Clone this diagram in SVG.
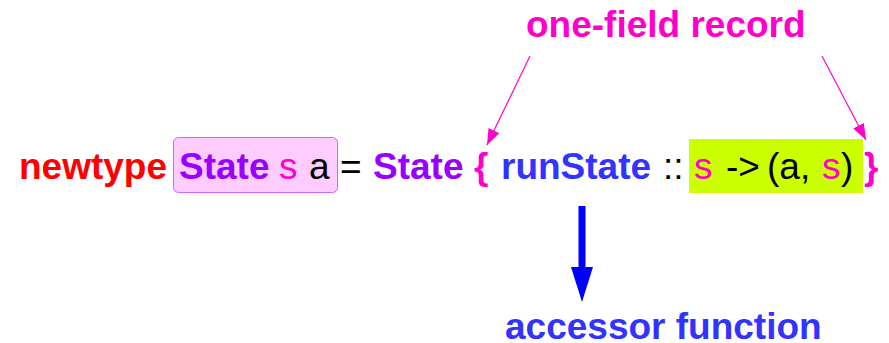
<svg xmlns="http://www.w3.org/2000/svg" width="889" height="343" viewBox="0 0 889 343">
  <style>
    text { font-family: "Liberation Sans", Arial, sans-serif; font-size: 37px; }
    .b { font-weight: bold; }
    .red { fill: #ff0000; }
    .purple { fill: #9900ff; }
    .mag { fill: #ff00cc; }
    .blue { fill: #3333ff; }
    .blk { fill: #000000; }
  </style>
  <defs>
    <marker id="pinkHead" viewBox="0 0 16 12" refX="16" refY="6" markerWidth="16" markerHeight="12" markerUnits="userSpaceOnUse" orient="auto">
      <path d="M0,0 L16,6 L0,12 Z" fill="#ff00cc"/>
    </marker>
  </defs>

  <!-- highlight boxes -->
  <g id="type-box">
    <rect x="173.5" y="137.5" width="164" height="55" rx="5" fill="#ffccff" stroke="#cc66ff" stroke-width="1"/>
  </g>
  <g id="field-box">
    <rect x="689" y="139" width="174" height="54" fill="#ccff00"/>
  </g>

  <!-- declaration line -->
  <g id="declaration">
    <text x="19" y="179" class="b red">newtype</text>
    <text x="179" y="179" class="b purple">State</text>
    <text x="279" y="179" class="mag">s</text>
    <text x="309" y="179" class="blk">a</text>
    <text x="340" y="179" class="blk">=</text>
    <text x="373" y="179" class="b purple">State</text>
    <text x="474" y="179" class="b mag">{</text>
    <text x="501" y="179" class="b blue">runState</text>
    <text x="663" y="179" class="blk">::</text>
    <text x="694" y="179" class="mag">s</text>
    <text x="726" y="179" class="blk">-&gt;</text>
    <text x="767" y="179" class="blk">(a,</text>
    <text x="822" y="179" class="mag">s</text>
    <text x="841" y="179" class="blk">)</text>
    <text x="864" y="179" class="b mag">}</text>
  </g>

  <!-- labels -->
  <g id="record-label">
    <text x="526" y="37" class="b mag">one-field record</text>
  </g>
  <g id="accessor-label">
    <text x="505" y="339" class="b blue">accessor function</text>
  </g>

  <!-- connectors -->
  <g id="connectors">
    <line x1="530" y1="56" x2="487" y2="145" stroke="#ff00cc" stroke-width="1.2" marker-end="url(#pinkHead)"/>
    <line x1="822" y1="56" x2="866" y2="140" stroke="#ff00cc" stroke-width="1.2" marker-end="url(#pinkHead)"/>
    <rect x="578.5" y="206" width="7" height="63" fill="#0000ff"/>
    <path d="M571,267 L593,267 L582,302 Z" fill="#0000ff"/>
  </g>
</svg>
